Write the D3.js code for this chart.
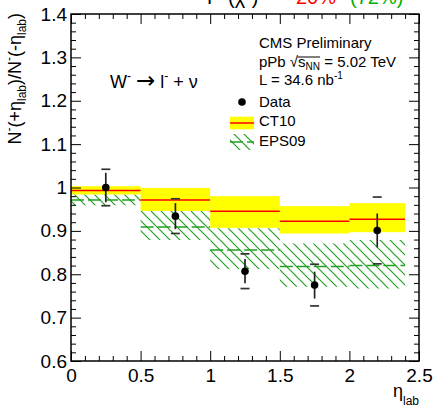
<!DOCTYPE html>
<html>
<head>
<meta charset="utf-8">
<script src="https://cdn.jsdelivr.net/npm/d3@7"></script>
<style>
  html, body { margin: 0; padding: 0; background: #fff; }
  svg { display: block; font-family: "Liberation Sans", Arial, Helvetica, sans-serif; }
</style>
</head>
<body>
<svg id="chart" width="434" height="409"></svg>
<script>
// W- forward/backward ratio versus eta_lab, pPb at 5.02 TeV
const binEdges    = [0, 0.5, 1.0, 1.5, 2.0, 2.4];
const etaCenters  = [0.25, 0.75, 1.25, 1.75, 2.2];
const dataRatio   = [1.000, 0.934, 0.807, 0.775, 0.901];
const statErr     = [0.034, 0.030, 0.028, 0.031, 0.039];
const totalErr    = [0.042, 0.040, 0.040, 0.048, 0.077];

const ct10Central = [0.993, 0.971, 0.945, 0.922, 0.927];
const ct10Low     = [0.984, 0.946, 0.907, 0.894, 0.897];
const ct10High    = [1.003, 0.999, 0.980, 0.957, 0.964];

const eps09Central = [0.971, 0.909, 0.856, 0.818, 0.820];
const eps09Low     = [0.959, 0.879, 0.812, 0.771, 0.767];
const eps09High    = [0.984, 0.946, 0.906, 0.871, 0.879];

const xTicks      = [0, 0.5, 1, 1.5, 2, 2.5];
const xTickLabels = ["0", "0.5", "1", "1.5", "2", "2.5"];
const yTicks      = [0.6, 0.7, 0.8, 0.9, 1.0, 1.1, 1.2, 1.3, 1.4];
const yTickLabels = ["0.6", "0.7", "0.8", "0.9", "1", "1.1", "1.2", "1.3", "1.4"];

const svg = d3.select("#chart");
const x = d3.scaleLinear().domain([0, 2.5]).range([71, 419]);
const y = d3.scaleLinear().domain([0.6, 1.4]).range([361, 14]);

const YELLOW = "#ffff00", RED = "#ff0000", GREEN = "#22a022";

// diagonal hatch used for the EPS09 band
const defs = svg.append("defs");
const pat = defs.append("pattern").attr("id", "eps09Hatch")
  .attr("patternUnits", "userSpaceOnUse").attr("width", 10).attr("height", 10);
pat.append("path").attr("d", "M0,0L10,10M-3,7L3,13M7,-3L13,3")
  .attr("stroke", GREEN).attr("stroke-width", 1.2).attr("fill", "none");

const bins = ct10Central.map((c, i) => ({
  lo: binEdges[i], hi: binEdges[i + 1],
  ct: c, ctLo: ct10Low[i], ctHi: ct10High[i],
  ep: eps09Central[i], epLo: eps09Low[i], epHi: eps09High[i]
}));

// EPS09 band
svg.append("g").selectAll("rect").data(bins).join("rect")
  .attr("x", d => x(d.lo)).attr("width", d => x(d.hi) - x(d.lo))
  .attr("y", d => y(d.epHi)).attr("height", d => y(d.epLo) - y(d.epHi))
  .attr("fill", "url(#eps09Hatch)");
svg.append("g").selectAll("line").data(bins).join("line")
  .attr("x1", d => x(d.lo)).attr("x2", d => x(d.hi))
  .attr("y1", d => y(d.ep)).attr("y2", d => y(d.ep))
  .attr("stroke", GREEN).attr("stroke-width", 1.5).attr("stroke-dasharray", "13,4");

// CT10 band
svg.append("g").selectAll("rect").data(bins).join("rect")
  .attr("x", d => x(d.lo)).attr("width", d => x(d.hi) - x(d.lo))
  .attr("y", d => y(d.ctHi)).attr("height", d => y(d.ctLo) - y(d.ctHi))
  .attr("fill", YELLOW);
svg.append("g").selectAll("line").data(bins).join("line")
  .attr("x1", d => x(d.lo)).attr("x2", d => x(d.hi))
  .attr("y1", d => y(d.ct)).attr("y2", d => y(d.ct))
  .attr("stroke", RED).attr("stroke-width", 1.5);

// data points
const pts = etaCenters.map((e, i) => ({ eta: e, v: dataRatio[i], s: statErr[i], t: totalErr[i] }));
const gp = svg.append("g");
gp.selectAll("line.stat").data(pts).join("line").attr("class", "stat")
  .attr("x1", d => x(d.eta)).attr("x2", d => x(d.eta))
  .attr("y1", d => y(d.v + d.s)).attr("y2", d => y(d.v - d.s))
  .attr("stroke", "#222").attr("stroke-width", 1.7);
[1, -1].forEach(sgn => {
  gp.selectAll("line.cap" + (sgn > 0 ? "u" : "d")).data(pts).join("line")
    .attr("class", "cap" + (sgn > 0 ? "u" : "d"))
    .attr("x1", d => x(d.eta) - 4.5).attr("x2", d => x(d.eta) + 4.5)
    .attr("y1", d => y(d.v + sgn * d.t)).attr("y2", d => y(d.v + sgn * d.t))
    .attr("stroke", "#333").attr("stroke-width", 1.7);
});
gp.selectAll("circle").data(pts).join("circle")
  .attr("cx", d => x(d.eta)).attr("cy", d => y(d.v)).attr("r", 3.8).attr("fill", "#000");

// axes: ticks on all four sides, pointing inward
const xMinor = d3.range(0, 2.5001, 0.1).filter(v => Math.abs(v * 2 - Math.round(v * 2)) > 1e-6);
const yMinor = d3.range(0.6, 1.4001, 0.02).filter(v => Math.abs(v * 10 - Math.round(v * 10)) > 1e-6);

function styleAxis(g, fs) {
  g.select(".domain").remove();
  g.attr("font-family", null).attr("font-size", fs);
  g.selectAll(".tick line").attr("stroke", "#000").attr("stroke-width", 1);
}
svg.append("g").attr("transform", "translate(0,361)")
  .call(d3.axisBottom(x).tickValues(xTicks).tickSize(-10).tickPadding(8).tickFormat((d, i) => xTickLabels[i]))
  .call(g => styleAxis(g, 19));
svg.append("g").attr("transform", "translate(0,361)")
  .call(d3.axisBottom(x).tickValues(xMinor).tickSize(-5).tickFormat(""))
  .call(g => styleAxis(g, 10));
svg.append("g").attr("transform", "translate(0,14)")
  .call(d3.axisTop(x).tickValues(xTicks).tickSize(-10).tickFormat(""))
  .call(g => styleAxis(g, 10));
svg.append("g").attr("transform", "translate(0,14)")
  .call(d3.axisTop(x).tickValues(xMinor).tickSize(-5).tickFormat(""))
  .call(g => styleAxis(g, 10));
svg.append("g").attr("transform", "translate(71,0)")
  .call(d3.axisLeft(y).tickValues(yTicks).tickSize(-10).tickPadding(4).tickFormat((d, i) => yTickLabels[i]))
  .call(g => styleAxis(g, 19));
svg.append("g").attr("transform", "translate(71,0)")
  .call(d3.axisLeft(y).tickValues(yMinor).tickSize(-5).tickFormat(""))
  .call(g => styleAxis(g, 10));
svg.append("g").attr("transform", "translate(419,0)")
  .call(d3.axisRight(y).tickValues(yTicks).tickSize(-10).tickFormat(""))
  .call(g => styleAxis(g, 10));
svg.append("g").attr("transform", "translate(419,0)")
  .call(d3.axisRight(y).tickValues(yMinor).tickSize(-5).tickFormat(""))
  .call(g => styleAxis(g, 10));

// frame
svg.append("rect").attr("x", x(0)).attr("y", y(1.4))
  .attr("width", x(2.5) - x(0)).attr("height", y(0.6) - y(1.4))
  .attr("fill", "none").attr("stroke", "#000").attr("stroke-width", 1.5);

// axis titles
const xt = svg.append("text").attr("x", 419).attr("y", 397).attr("text-anchor", "end").attr("font-size", 18);
xt.append("tspan").text("η");
xt.append("tspan").attr("font-size", 12).attr("dy", 8).text("lab");

const yt = svg.append("text").attr("transform", "translate(21,13) rotate(-90)")
  .attr("text-anchor", "end").attr("font-size", 18);
yt.append("tspan").text("N");
yt.append("tspan").attr("font-size", 12).attr("dy", -8).text("-");
yt.append("tspan").attr("dy", 8).text("(+η");
yt.append("tspan").attr("font-size", 12).attr("dy", 5).text("lab");
yt.append("tspan").attr("dy", -5).text(")/N");
yt.append("tspan").attr("font-size", 12).attr("dy", -8).text("-");
yt.append("tspan").attr("dy", 8).text("(-η");
yt.append("tspan").attr("font-size", 12).attr("dy", 5).text("lab");
yt.append("tspan").attr("dy", -5).text(")");

// fit probability line above the frame (only its lower edge falls inside the canvas)
const probLine = svg.append("g").attr("font-size", 20);
probLine.append("text").attr("x", 207).attr("y", 4).text("P");
probLine.append("text").attr("x", 228).attr("y", 4).text("(χ²)");
probLine.append("text").attr("x", 296).attr("y", 4).attr("fill", RED).text("20%");
probLine.append("text").attr("x", 350).attr("y", 4).attr("fill", "#00b000").text("(72%)");

// process label
const wl = svg.append("text").attr("x", 110).attr("y", 88).attr("font-size", 18);
wl.append("tspan").text("W");
wl.append("tspan").attr("font-size", 12).attr("dy", -8).text("-");
wl.append("tspan").attr("dy", 8).text(" ");
wl.append("tspan").attr("font-family", "DejaVu Sans").attr("font-size", 23).text("→");
wl.append("tspan").text(" l");
wl.append("tspan").attr("font-size", 12).attr("dy", -8).text("-");
wl.append("tspan").attr("dy", 8).text(" + ν");

// legend
const lg = svg.append("g").attr("font-size", 15);
lg.append("text").attr("x", 259).attr("y", 47.5).text("CMS Preliminary");
const en = lg.append("text").attr("x", 259).attr("y", 66.7);
en.append("tspan").text("pPb ");
en.append("tspan").text("√");
en.append("tspan").text("s");
en.append("tspan").attr("font-size", 10).attr("dy", 3).text("NN");
en.append("tspan").attr("dy", -3).text(" = 5.02 TeV");
{
  const n = en.node();
  const r0 = n.getExtentOfChar(4), r1 = n.getExtentOfChar(7);
  lg.append("line").attr("x1", r0.x + r0.width - 0.5).attr("x2", r1.x + r1.width)
    .attr("y1", 57).attr("y2", 57).attr("stroke", "#000").attr("stroke-width", 1);
}
const lum = lg.append("text").attr("x", 259).attr("y", 85);
lum.append("tspan").text("L = 34.6 nb");
lum.append("tspan").attr("font-size", 10).attr("dy", -6).text("-1");

lg.append("circle").attr("cx", 242).attr("cy", 102).attr("r", 3.8).attr("fill", "#000");
lg.append("text").attr("x", 259).attr("y", 106.5).text("Data");

lg.append("rect").attr("x", 230).attr("y", 116.7).attr("width", 24).attr("height", 12.6).attr("fill", YELLOW);
lg.append("line").attr("x1", 230).attr("x2", 254).attr("y1", 123).attr("y2", 123)
  .attr("stroke", RED).attr("stroke-width", 1.5);
lg.append("text").attr("x", 259).attr("y", 126).text("CT10");

lg.append("rect").attr("x", 230).attr("y", 134).attr("width", 24).attr("height", 16).attr("fill", "url(#eps09Hatch)");
lg.append("line").attr("x1", 230).attr("x2", 254).attr("y1", 142).attr("y2", 142)
  .attr("stroke", GREEN).attr("stroke-width", 1.5).attr("stroke-dasharray", "13,4");
lg.append("text").attr("x", 259).attr("y", 146).text("EPS09");
</script>
</body>
</html>
